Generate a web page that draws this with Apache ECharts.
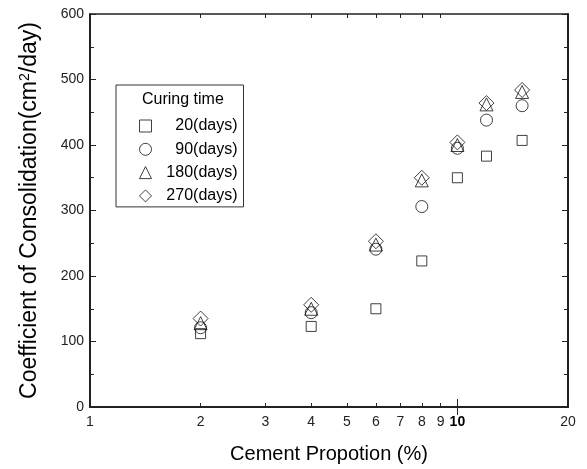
<!DOCTYPE html>
<html>
<head>
<meta charset="utf-8">
<script src="https://cdn.jsdelivr.net/npm/echarts@6/dist/echarts.min.js"></script>
<style>
  html, body { margin: 0; padding: 0; background: #fff; }
  #chart { width: 587px; height: 469px; }
</style>
</head>
<body>
<div id="chart"></div>
<script>
// cement proportion (%)
const proportion = [2, 4, 6, 8, 10, 12, 15];
// coefficient of consolidation (cm2/day) per curing time
const days20 = [112, 123, 150, 223, 350, 383, 407];
const days90 = [121, 144, 241, 306, 395, 438, 460];
const days180 = [128, 150, 248, 346, 400, 462, 481];
const days270 = [135, 156, 253, 350, 404, 464, 484];
const seriesNames = ["20(days)", "90(days)", "180(days)", "270(days)"];
const xLabels = [1, 2, 3, 4, 5, 6, 7, 8, 9, 10, 20];
const xMinorTicks = [2, 3, 4, 5, 6, 7, 8, 9];
const xMajorTicks = [10];

const font = "Liberation Sans";
const ink = "#222";
const chart = echarts.init(document.getElementById("chart"));

const toPairs = (ys) => proportion.map((x, i) => [x, ys[i]]);

function logAxis(extra) {
  return Object.assign({
    type: "log",
    logBase: 10,
    min: 1,
    max: 20,
    splitLine: { show: false },
    minorTick: { show: false },
    axisLine: { show: false },
    axisLabel: { show: false },
    axisTick: { show: false },
  }, extra);
}

const tickLine = { color: ink, width: 1 };

const markers = [
  { symbol: "rect", size: 10 },
  { symbol: "circle", size: 12 },
  { symbol: "triangle", size: 13 },
  { symbol: "diamond", size: 15 },
];
const values = [days20, days90, days180, days270];

const option = {
  animation: false,
  grid: { left: 90, right: 19, top: 14, bottom: 61 },
  title: {
    text: "Curing time",
    left: 142,
    top: 92,
    padding: 0,
    textStyle: { fontFamily: font, fontSize: 16, fontWeight: "normal", color: "#000" },
  },
  legend: {
    data: seriesNames,
    orient: "vertical",
    left: 116,
    top: 85,
    padding: [33, 6, 3, 23],
    itemGap: 7.3,
    itemWidth: 12,
    itemHeight: 12,
    borderColor: "#333",
    borderWidth: 1,
    itemStyle: { borderWidth: 1, borderColor: "#111", color: "rgba(255,255,255,0)" },
    formatter: (name) => "{r|" + name + "}",
    textStyle: {
      fontFamily: font,
      fontSize: 16,
      color: "#000",
      rich: { r: { fontFamily: font, fontSize: 16, color: "#000", width: 81, align: "right", lineHeight: 16 } },
    },
  },
  xAxis: [
    logAxis({
      position: "bottom",
      axisLine: { show: true, onZero: false, lineStyle: { color: ink, width: 2 } },
      axisTick: { show: true, inside: true, length: 4, lineStyle: tickLine, customValues: xMinorTicks },
      axisLabel: {
        show: true,
        customValues: xLabels,
        fontFamily: font,
        fontSize: 14,
        color: ink,
        margin: 8,
        formatter: (v) => (Math.round(v) === 10 ? "{b|10}" : String(Math.round(v))),
        rich: { b: { fontFamily: font, fontSize: 14, fontWeight: "bold", color: "#000" } },
      },
      name: "Cement Propotion (%)",
      nameLocation: "middle",
      nameGap: 37,
      nameTextStyle: { fontFamily: font, fontSize: 20, color: "#000" },
    }),
    logAxis({
      position: "bottom",
      axisTick: { show: true, inside: true, length: 8, lineStyle: tickLine, customValues: xMajorTicks },
    }),
    logAxis({
      position: "top",
      axisLine: { show: true, onZero: false, lineStyle: { color: ink, width: 1.5 } },
      axisTick: { show: true, inside: true, length: 4, lineStyle: tickLine, customValues: xMinorTicks },
    }),
    logAxis({
      position: "top",
      axisTick: { show: true, inside: true, length: 8, lineStyle: tickLine, customValues: xMajorTicks },
    }),
  ],
  yAxis: [
    {
      type: "value",
      position: "left",
      min: 0,
      max: 600,
      interval: 100,
      splitLine: { show: false },
      axisLine: { show: true, onZero: false, lineStyle: { color: ink, width: 2 } },
      axisTick: { show: true, inside: true, length: 6, lineStyle: tickLine },
      minorTick: { show: true, splitNumber: 2, length: 4, lineStyle: tickLine },
      axisLabel: { fontFamily: font, fontSize: 14, color: ink, margin: 6 },
      name: "Coefficient of Consolidation(cm{sup|2}/day)",
      nameLocation: "middle",
      nameGap: 48,
      nameTextStyle: {
        fontFamily: font,
        fontSize: 23,
        color: "#000",
        rich: { sup: { fontFamily: font, fontSize: 14, color: "#000", verticalAlign: "top", padding: [0, 0, 10, 0] } },
      },
    },
    {
      type: "value",
      position: "right",
      min: 0,
      max: 600,
      interval: 100,
      splitLine: { show: false },
      axisLine: { show: true, onZero: false, lineStyle: { color: ink, width: 2 } },
      axisTick: { show: true, inside: true, length: 6, lineStyle: tickLine },
      minorTick: { show: true, splitNumber: 2, length: 4, lineStyle: tickLine },
      axisLabel: { show: false },
    },
  ],
  series: seriesNames.map((name, i) => ({
    name: name,
    type: "scatter",
    xAxisIndex: 0,
    yAxisIndex: 0,
    symbol: markers[i].symbol,
    symbolSize: markers[i].size,
    data: toPairs(values[i]),
    itemStyle: { color: "rgba(255,255,255,0)", borderColor: "#111", borderWidth: 1 },
    emphasis: { disabled: true },
  })),
};

chart.setOption(option);
</script>
</body>
</html>
